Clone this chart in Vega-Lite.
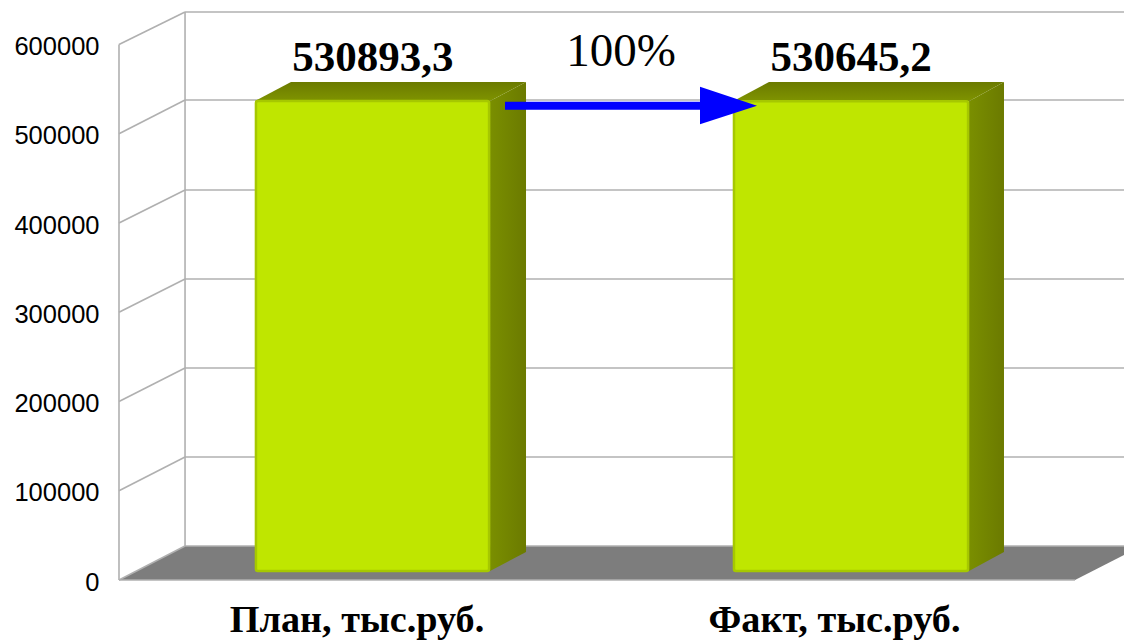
{
"$schema":"https://vega.github.io/schema/vega-lite/v6.json",
"width":1005,"height":568,
"autosize":{"type":"none"},
"padding":{"left":119,"top":12,"right":0,"bottom":62},
"background":"white",
"config":{"view":{"stroke":null}},
"datasets":{
"floor":[{"x":0.4702,"y":0,"y2":0},{"x":0.6082,"y":0,"y2":38094},{"x":2.4681,"y":0,"y2":38094},{"x":2.5705,"y":28010,"y2":38094}],
"walls":[
{"x":0.4702,"x2":2.4681,"y":0,"y2":0},
{"x":0.4702,"x2":0.4702,"y":0,"y2":600000},
{"x":0.6082,"x2":0.6082,"y":38094,"y2":636387},
{"x":0.4702,"x2":0.6082,"y":0,"y2":38094},
{"x":0.4702,"x2":0.6082,"y":100000,"y2":137809},
{"x":0.4702,"x2":0.6082,"y":200000,"y2":237525},
{"x":0.4702,"x2":0.6082,"y":300000,"y2":337240},
{"x":0.4702,"x2":0.6082,"y":400000,"y2":436956},
{"x":0.4702,"x2":0.6082,"y":500000,"y2":537792},
{"x":0.4702,"x2":0.6082,"y":600000,"y2":636387},
{"x":0.6082,"x2":2.5705,"y":38094,"y2":38094},
{"x":0.6082,"x2":2.5705,"y":137809,"y2":137809},
{"x":0.6082,"x2":2.5705,"y":237525,"y2":237525},
{"x":0.6082,"x2":2.5705,"y":337240,"y2":337240},
{"x":0.6082,"x2":2.5705,"y":436956,"y2":436956},
{"x":0.6082,"x2":2.5705,"y":537792,"y2":537792},
{"x":0.6082,"x2":2.5705,"y":636387,"y2":636387}],
"bartop":[
{"bar":"План","x":0.7544,"y":530893.3,"y2":530893.3},{"bar":"План","x":0.8296,"y":530893.3,"y2":552374},{"bar":"План","x":1.2456,"y":530893.3,"y2":552374},{"bar":"План","x":1.3208,"y":552374,"y2":552374},
{"bar":"Факт","x":1.7534,"y":530645.2,"y2":530645.2},{"bar":"Факт","x":1.8286,"y":530645.2,"y2":552374},{"bar":"Факт","x":2.2466,"y":530645.2,"y2":552374},{"bar":"Факт","x":2.3197,"y":552374,"y2":552374}],
"barside":[
{"bar":"План","x":1.2456,"y":530893.3,"y2":0},{"bar":"План","x":1.3208,"y":552374,"y2":21462},
{"bar":"Факт","x":2.2466,"y":530645.2,"y2":0},{"bar":"Факт","x":2.3197,"y":552374,"y2":21462}],
"bars":[
{"cat":"План, тыс.руб.","x":0.7564,"x2":1.2436,"y":530893.3,"y0":0},
{"cat":"Факт, тыс.руб.","x":1.7554,"x2":2.2446,"y":530645.2,"y0":0}],
"shaft":[{"x":1.2769,"x2":1.6844,"y":531410}],
"head":[{"x":1.6844,"y":510570,"y2":552697},{"x":1.8035,"y":531410,"y2":531410}],
"vals":[{"x":1.001,"y":584849,"t":"530893,3"},{"x":2.0,"y":584849,"t":"530645,2"}],
"pct":[{"x":1.5193,"y":591572,"t":"100%"}],
"cats":[{"x":0.9676,"y":-45936,"t":"План, тыс.руб."},{"x":1.9655,"y":-45936,"t":"Факт, тыс.руб."}]
},
"encoding":{"x":{"field":"x","type":"quantitative","scale":{"domain":[0.4702,2.5705],"nice":false,"zero":false},"axis":null}},
"layer":[
{"encoding":{"y":{"field":"y","type":"quantitative","title":null,"scale":{"domain":[0,636415],"nice":false,"zero":false},
"axis":{"values":[0,100000,200000,300000,400000,500000,600000],"format":"d","grid":false,"domain":false,"ticks":false,"labelPadding":20,"labelFontSize":25.5,"labelFont":"Liberation Sans","labelColor":"#000000","labelOffset":2,"title":null}}},
"layer":[
{"data":{"name":"floor"},"mark":{"type":"area","color":"#7d7d7d","opacity":1},"encoding":{"y2":{"field":"y2"}}},
{"data":{"name":"walls"},"mark":{"type":"rule","color":"#b0b0b0","strokeWidth":1.6},"encoding":{"x2":{"field":"x2"},"y2":{"field":"y2"}}}
]},
{"encoding":{"y":{"field":"y","type":"quantitative","title":null,"scale":{"domain":[-10166,631446],"nice":false,"zero":false},"axis":null}},
"layer":[
{"data":{"name":"bartop"},"mark":{"type":"area","opacity":1,"color":{"x1":0,"y1":0,"x2":0,"y2":1,"gradient":"linear","stops":[{"offset":0,"color":"#6b7a00"},{"offset":1,"color":"#7f9400"}]}},"encoding":{"y2":{"field":"y2"},"detail":{"field":"bar"}}},
{"data":{"name":"barside"},"mark":{"type":"area","opacity":1,"color":{"x1":0,"y1":0,"x2":1,"y2":0,"gradient":"linear","stops":[{"offset":0,"color":"#7a8f00"},{"offset":1,"color":"#6b7a00"}]}},"encoding":{"y2":{"field":"y2"},"detail":{"field":"bar"}}},
{"data":{"name":"bars"},"mark":{"type":"rect","color":"#bfe600","stroke":"#a6c800","strokeWidth":2.5,"cornerRadius":2},"encoding":{"x2":{"field":"x2"},"y2":{"field":"y0"}}}
]},
{"encoding":{"y":{"field":"y","type":"quantitative","title":null,"scale":{"domain":[0,636415],"nice":false,"zero":false},"axis":null}},
"layer":[
{"data":{"name":"shaft"},"mark":{"type":"rule","color":"#0000ff","strokeWidth":8},"encoding":{"x2":{"field":"x2"}}},
{"data":{"name":"head"},"mark":{"type":"area","color":"#0000ff","opacity":1},"encoding":{"y2":{"field":"y2"}}},
{"data":{"name":"vals"},"mark":{"type":"text","font":"Liberation Serif","fontWeight":"bold","fontSize":43,"color":"#000000","baseline":"middle"},"encoding":{"text":{"field":"t"}}},
{"data":{"name":"pct"},"mark":{"type":"text","font":"Liberation Serif","fontSize":47,"color":"#000000","baseline":"middle"},"encoding":{"text":{"field":"t"}}},
{"data":{"name":"cats"},"mark":{"type":"text","font":"Liberation Serif","fontWeight":"bold","fontSize":38.2,"color":"#000000","baseline":"middle"},"encoding":{"text":{"field":"t"}}}
]}
],
"resolve":{"scale":{"y":"independent"}}
}
